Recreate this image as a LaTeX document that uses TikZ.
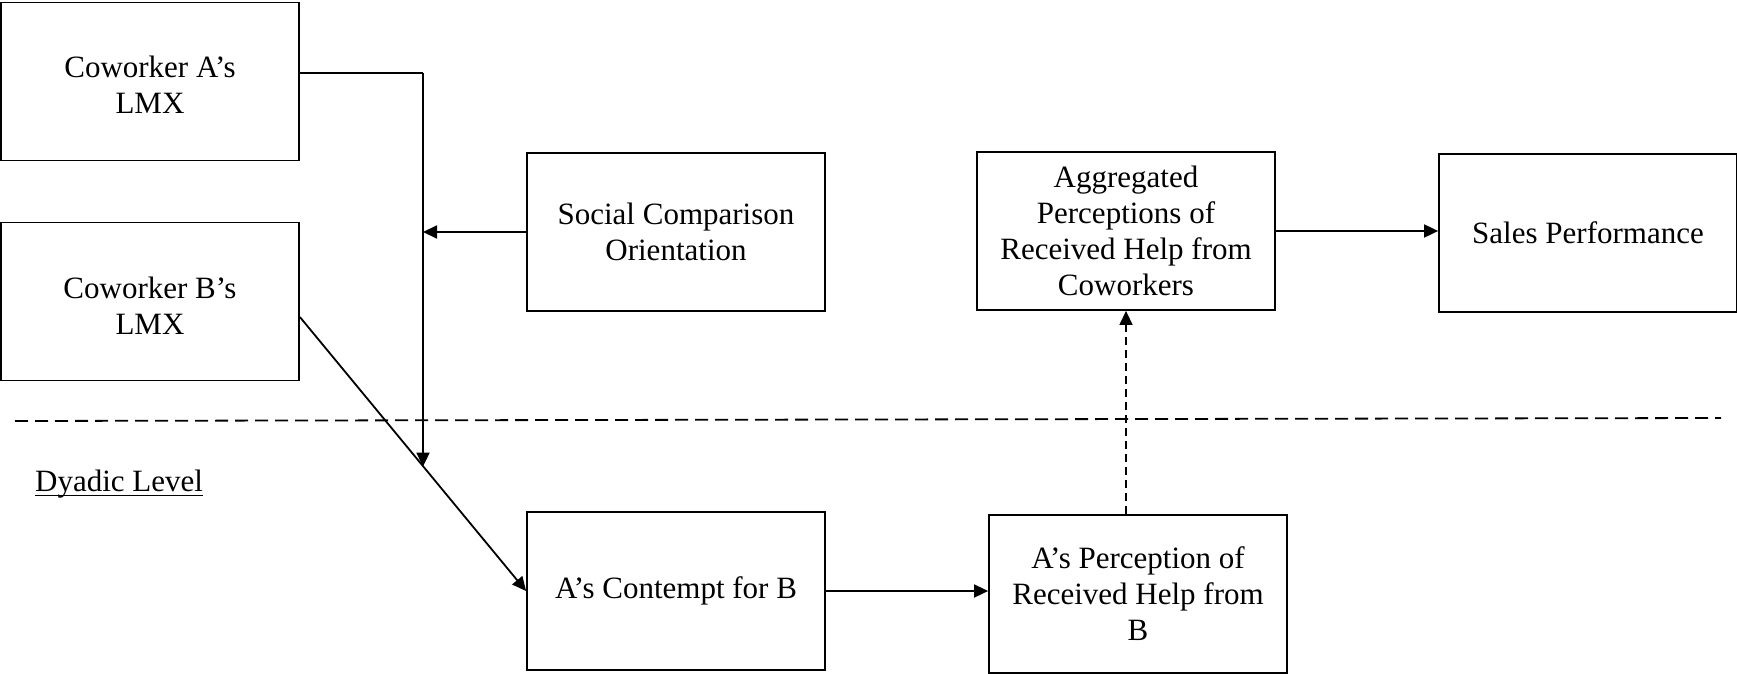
\documentclass[tikz,border=0pt]{standalone}
\usepackage{fontspec}
\setmainfont{Liberation Serif}
\usetikzlibrary{arrows.meta,calc}
\begin{document}
\begin{tikzpicture}[x=1pt,y=-1pt,
  box/.style={draw,line width=1.8pt,rectangle,minimum width=298pt,minimum height=158pt,inner sep=0pt,align=center,font=\fontsize{31}{36}\selectfont},
  conn/.style={line width=1.8pt,-{Triangle[length=14pt,width=13pt]}},
  dotconn/.style={line width=1.4pt,dash pattern=on 8pt off 5pt,-{Triangle[length=14pt,width=13pt]}},
  levelline/.style={line width=1.8pt,dash pattern=on 13pt off 7pt}]
\useasboundingbox (0,0) rectangle (1737,674);
\node[box] (A) at (150,81.5) {\rule{0pt}{29pt}Coworker A’s\\LMX};
\node[box] (B) at (150,301.5) {\rule{0pt}{29pt}Coworker B’s\\LMX};
\node[box] (SCO) at (676,232) {Social Comparison\\Orientation};
\node[box] (CT) at (676,591) {A’s Contempt for B};
\node[box] (PR) at (1138,594) {A’s Perception of\\Received Help from\\B};
\node[box] (AG) at (1126,231) {Aggregated\\Perceptions of\\Received Help from\\Coworkers};
\node[box] (SP) at (1588,233) {Sales Performance};
\node[anchor=base west,inner sep=0pt,font=\fontsize{31}{36}\selectfont] (DL) at (35,491) {Dyadic Level};
\draw[line width=1.4pt] ([yshift=-4.5pt]DL.base west) -- ([yshift=-4.5pt]DL.base east);
\coordinate (corner) at (423,73);
\coordinate (mod) at (423,466.6);
\coordinate (dl1) at (15,421);
\coordinate (dl2) at (1721,418);
\draw[levelline] (dl1) -- (dl2);
\draw[line width=1.8pt] ([yshift=8.5pt]A.east) -- (corner);
\draw[conn] (corner) -- (mod);
\draw[conn] (SCO.west) -- (SCO.west -| corner);
\draw[conn] ([yshift=-15.5pt]B.east) -- (CT.west);
\draw[conn] (CT.east) -- (CT.east -| PR.west);
\draw[dotconn] (PR.north -| AG.south) -- (AG.south);
\draw[conn] (AG.east) -- (AG.east -| SP.west);
\end{tikzpicture}
\end{document}
